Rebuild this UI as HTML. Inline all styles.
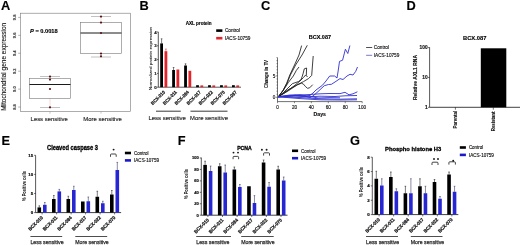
<!DOCTYPE html>
<html><head><meta charset="utf-8"><title>Figure</title>
<style>
html,body{margin:0;padding:0;background:#fff;}
body{width:520px;height:245px;overflow:hidden;}
svg{display:block;will-change:transform;font-family:"Liberation Sans", sans-serif;}
</style></head>
<body>
<svg width="520" height="245" viewBox="0 0 520 245" fill="#111">
<text x="0.9" y="9.9" font-size="12.8" font-weight="bold" fill="#000" stroke="#000" stroke-width="0.14">A</text>
<text x="139.6" y="9.9" font-size="12.8" font-weight="bold" fill="#000" stroke="#000" stroke-width="0.14">B</text>
<text x="261" y="9.9" font-size="12.8" font-weight="bold" fill="#000" stroke="#000" stroke-width="0.14">C</text>
<text x="406.4" y="9.9" font-size="12.8" font-weight="bold" fill="#000" stroke="#000" stroke-width="0.14">D</text>
<text x="1.4" y="145.3" font-size="12.8" font-weight="bold" fill="#000" stroke="#000" stroke-width="0.14">E</text>
<text x="177.8" y="145.3" font-size="12.8" font-weight="bold" fill="#000" stroke="#000" stroke-width="0.14">F</text>
<text x="350" y="145.3" font-size="12.8" font-weight="bold" fill="#000" stroke="#000" stroke-width="0.14">G</text>
<rect x="20.5" y="13.2" width="110" height="98.4" fill="none" stroke="#777" stroke-width="0.6"/>
<line x1="18.2" y1="17.4" x2="20.5" y2="17.4" stroke="#666" stroke-width="0.5"/>
<text x="16.5" y="17.4" font-size="4.4" font-weight="bold" text-anchor="middle" transform="rotate(-90 16.5 17.4)" fill="#333" textLength="5.6" lengthAdjust="spacingAndGlyphs" stroke="#333" stroke-width="0.14">9.8</text>
<line x1="18.2" y1="35.33" x2="20.5" y2="35.33" stroke="#666" stroke-width="0.5"/>
<text x="16.5" y="35.33" font-size="4.4" font-weight="bold" text-anchor="middle" transform="rotate(-90 16.5 35.33)" fill="#333" textLength="5.6" lengthAdjust="spacingAndGlyphs" stroke="#333" stroke-width="0.14">9.6</text>
<line x1="18.2" y1="53.26" x2="20.5" y2="53.26" stroke="#666" stroke-width="0.5"/>
<text x="16.5" y="53.26" font-size="4.4" font-weight="bold" text-anchor="middle" transform="rotate(-90 16.5 53.26)" fill="#333" textLength="5.6" lengthAdjust="spacingAndGlyphs" stroke="#333" stroke-width="0.14">9.4</text>
<line x1="18.2" y1="71.19" x2="20.5" y2="71.19" stroke="#666" stroke-width="0.5"/>
<text x="16.5" y="71.19" font-size="4.4" font-weight="bold" text-anchor="middle" transform="rotate(-90 16.5 71.19)" fill="#333" textLength="5.6" lengthAdjust="spacingAndGlyphs" stroke="#333" stroke-width="0.14">9.2</text>
<line x1="18.2" y1="89.12" x2="20.5" y2="89.12" stroke="#666" stroke-width="0.5"/>
<text x="16.5" y="89.12" font-size="4.4" font-weight="bold" text-anchor="middle" transform="rotate(-90 16.5 89.12)" fill="#333" textLength="5.6" lengthAdjust="spacingAndGlyphs" stroke="#333" stroke-width="0.14">9.0</text>
<line x1="18.2" y1="107.05" x2="20.5" y2="107.05" stroke="#666" stroke-width="0.5"/>
<text x="16.5" y="107.05" font-size="4.4" font-weight="bold" text-anchor="middle" transform="rotate(-90 16.5 107.05)" fill="#333" textLength="5.6" lengthAdjust="spacingAndGlyphs" stroke="#333" stroke-width="0.14">8.8</text>
<text x="6.5" y="66.8" font-size="6.3" text-anchor="middle" transform="rotate(-90 6.5 66.8)" fill="#222" textLength="88" lengthAdjust="spacingAndGlyphs" stroke="#222" stroke-width="0.14">Mitochondrial gene expression</text>
<text x="30" y="33" font-size="5.7" font-weight="bold" fill="#000" stroke="#000" stroke-width="0.14"><tspan font-style="italic">P</tspan> = 0.0018</text>
<line x1="50" y1="76.5" x2="50" y2="78.5" stroke="#f0c4c4" stroke-width="0.6"/>
<line x1="50" y1="98.5" x2="50" y2="107.5" stroke="#f0c4c4" stroke-width="0.6"/>
<line x1="40" y1="76.5" x2="60" y2="76.5" stroke="#999" stroke-width="0.6"/>
<line x1="40" y1="107.5" x2="60" y2="107.5" stroke="#999" stroke-width="0.6"/>
<rect x="29.5" y="78.5" width="41" height="20" fill="none" stroke="#777" stroke-width="0.6"/>
<line x1="29.5" y1="84.5" x2="70.5" y2="84.5" stroke="#1a1a1a" stroke-width="1"/>
<circle cx="50" cy="76.6" r="1.1" fill="#5a1414"/>
<circle cx="50" cy="79.6" r="1.1" fill="#5a1414"/>
<circle cx="50" cy="89" r="1.1" fill="#5a1414"/>
<circle cx="50" cy="107.3" r="1.1" fill="#5a1414"/>
<line x1="50" y1="111.5" x2="50" y2="113.6" stroke="#888" stroke-width="0.5"/>
<line x1="101" y1="16.5" x2="101" y2="22.5" stroke="#f0c4c4" stroke-width="0.6"/>
<line x1="101" y1="53.5" x2="101" y2="57" stroke="#f0c4c4" stroke-width="0.6"/>
<line x1="91" y1="16.5" x2="111" y2="16.5" stroke="#999" stroke-width="0.6"/>
<line x1="91" y1="57" x2="111" y2="57" stroke="#999" stroke-width="0.6"/>
<rect x="80.5" y="22.5" width="41" height="31" fill="none" stroke="#777" stroke-width="0.6"/>
<line x1="80.5" y1="33" x2="121.5" y2="33" stroke="#1a1a1a" stroke-width="1"/>
<circle cx="101" cy="16.6" r="1.1" fill="#5a1414"/>
<circle cx="101" cy="22.6" r="1.1" fill="#5a1414"/>
<circle cx="101" cy="33" r="1.1" fill="#5a1414"/>
<circle cx="101" cy="53.5" r="1.1" fill="#5a1414"/>
<circle cx="101" cy="56.3" r="1.1" fill="#5a1414"/>
<line x1="101" y1="111.5" x2="101" y2="113.6" stroke="#888" stroke-width="0.5"/>
<text x="30.6" y="120.9" font-size="6.1" fill="#222" textLength="37.1" lengthAdjust="spacingAndGlyphs" stroke="#222" stroke-width="0.14">Less sensitive</text>
<text x="83.2" y="120.9" font-size="6.1" fill="#222" textLength="38.6" lengthAdjust="spacingAndGlyphs" stroke="#222" stroke-width="0.14">More sensitive</text>
<line x1="158.3" y1="31.9" x2="158.3" y2="87.2" stroke="#111" stroke-width="0.7"/>
<line x1="156.9" y1="87.2" x2="158.3" y2="87.2" stroke="#111" stroke-width="0.6"/>
<text x="156.6" y="88.78" font-size="4.4" font-weight="bold" text-anchor="end" stroke="#111" stroke-width="0.14">0</text>
<line x1="156.9" y1="73.4" x2="158.3" y2="73.4" stroke="#111" stroke-width="0.6"/>
<text x="156.6" y="74.98" font-size="4.4" font-weight="bold" text-anchor="end" stroke="#111" stroke-width="0.14">1</text>
<line x1="156.9" y1="59.6" x2="158.3" y2="59.6" stroke="#111" stroke-width="0.6"/>
<text x="156.6" y="61.18" font-size="4.4" font-weight="bold" text-anchor="end" stroke="#111" stroke-width="0.14">2</text>
<line x1="156.9" y1="45.8" x2="158.3" y2="45.8" stroke="#111" stroke-width="0.6"/>
<text x="156.6" y="47.38" font-size="4.4" font-weight="bold" text-anchor="end" stroke="#111" stroke-width="0.14">3</text>
<line x1="156.9" y1="32" x2="158.3" y2="32" stroke="#111" stroke-width="0.6"/>
<text x="156.6" y="33.58" font-size="4.4" font-weight="bold" text-anchor="end" stroke="#111" stroke-width="0.14">4</text>
<line x1="158.3" y1="87.2" x2="241" y2="87.2" stroke="#111" stroke-width="0.7"/>
<rect x="160.2" y="43.4" width="2.8" height="43.8" fill="#000"/>
<rect x="164.5" y="51.2" width="2.8" height="36" fill="#e3242b"/>
<line x1="161.6" y1="38.8" x2="161.6" y2="43.4" stroke="#111" stroke-width="0.55"/>
<line x1="160.8" y1="38.8" x2="162.4" y2="38.8" stroke="#111" stroke-width="0.55"/>
<line x1="165.9" y1="49" x2="165.9" y2="51.2" stroke="#e3242b" stroke-width="0.55"/>
<line x1="165.1" y1="49" x2="166.7" y2="49" stroke="#e3242b" stroke-width="0.55"/>
<text x="165.4" y="92.5" font-size="4.7" font-weight="bold" text-anchor="end" transform="rotate(-45 165.4 92.5)" textLength="18" lengthAdjust="spacingAndGlyphs" stroke="#111" stroke-width="0.2">BCX-010</text>
<rect x="172.17" y="70" width="2.8" height="17.2" fill="#000"/>
<rect x="176.47" y="69.5" width="2.8" height="17.7" fill="#e3242b"/>
<line x1="173.57" y1="67.5" x2="173.57" y2="70" stroke="#111" stroke-width="0.55"/>
<line x1="172.77" y1="67.5" x2="174.37" y2="67.5" stroke="#111" stroke-width="0.55"/>
<text x="177.37" y="92.5" font-size="4.7" font-weight="bold" text-anchor="end" transform="rotate(-45 177.37 92.5)" textLength="18" lengthAdjust="spacingAndGlyphs" stroke="#111" stroke-width="0.2">BCX-011</text>
<rect x="184.14" y="65.5" width="2.8" height="21.7" fill="#000"/>
<rect x="188.44" y="70.8" width="2.8" height="16.4" fill="#e3242b"/>
<line x1="185.54" y1="63.8" x2="185.54" y2="65.5" stroke="#111" stroke-width="0.55"/>
<line x1="184.74" y1="63.8" x2="186.34" y2="63.8" stroke="#111" stroke-width="0.55"/>
<text x="189.34" y="92.5" font-size="4.7" font-weight="bold" text-anchor="end" transform="rotate(-45 189.34 92.5)" textLength="18" lengthAdjust="spacingAndGlyphs" stroke="#111" stroke-width="0.2">BCX-084</text>
<rect x="196.11" y="85.2" width="2.8" height="2" fill="#000"/>
<rect x="200.41" y="85.4" width="2.8" height="1.8" fill="#e3242b"/>
<text x="201.31" y="92.5" font-size="4.7" font-weight="bold" text-anchor="end" transform="rotate(-45 201.31 92.5)" textLength="18" lengthAdjust="spacingAndGlyphs" stroke="#111" stroke-width="0.2">BCX-017</text>
<rect x="208.08" y="85.2" width="2.8" height="2" fill="#000"/>
<rect x="212.38" y="85.4" width="2.8" height="1.8" fill="#e3242b"/>
<text x="213.28" y="92.5" font-size="4.7" font-weight="bold" text-anchor="end" transform="rotate(-45 213.28 92.5)" textLength="18" lengthAdjust="spacingAndGlyphs" stroke="#111" stroke-width="0.2">BCX-022</text>
<rect x="220.05" y="85.2" width="2.8" height="2" fill="#000"/>
<rect x="224.35" y="85.4" width="2.8" height="1.8" fill="#e3242b"/>
<text x="225.25" y="92.5" font-size="4.7" font-weight="bold" text-anchor="end" transform="rotate(-45 225.25 92.5)" textLength="18" lengthAdjust="spacingAndGlyphs" stroke="#111" stroke-width="0.2">BCX-070</text>
<rect x="232.02" y="85.2" width="2.8" height="2" fill="#000"/>
<rect x="236.32" y="85.4" width="2.8" height="1.8" fill="#e3242b"/>
<text x="237.22" y="92.5" font-size="4.7" font-weight="bold" text-anchor="end" transform="rotate(-45 237.22 92.5)" textLength="18" lengthAdjust="spacingAndGlyphs" stroke="#111" stroke-width="0.2">BCX-087</text>
<line x1="156" y1="111.2" x2="180.8" y2="111.2" stroke="#222" stroke-width="0.9"/>
<line x1="190.5" y1="111.2" x2="227.5" y2="111.2" stroke="#222" stroke-width="0.9"/>
<text x="148.5" y="120" font-size="6.1" fill="#222" textLength="37.4" lengthAdjust="spacingAndGlyphs" stroke="#222" stroke-width="0.14">Less sensitive</text>
<text x="190" y="120" font-size="6.1" fill="#222" textLength="38" lengthAdjust="spacingAndGlyphs" stroke="#222" stroke-width="0.14">More sensitive</text>
<text x="185.7" y="24.6" font-size="4.6" font-weight="bold" fill="#000" stroke="#000" stroke-width="0.14">AXL protein</text>
<rect x="216.2" y="29.3" width="6.2" height="2.6" fill="#000"/>
<rect x="216.2" y="36.9" width="6.2" height="2.6" fill="#e3242b"/>
<text x="224.9" y="32.1" font-size="4.7" stroke="#111" stroke-width="0.14">Control</text>
<text x="224.9" y="39.7" font-size="4.7" stroke="#111" stroke-width="0.14">IACS-10759</text>
<text x="151.9" y="58.5" font-size="4.4" text-anchor="middle" transform="rotate(-90 151.9 58.5)" textLength="63.5" lengthAdjust="spacingAndGlyphs" stroke="#111" stroke-width="0.06">Normalized protein expression</text>
<line x1="277.5" y1="57.7" x2="277.5" y2="101.6" stroke="#111" stroke-width="0.6"/>
<line x1="275.7" y1="97.3" x2="277.5" y2="97.3" stroke="#111" stroke-width="0.5"/>
<line x1="276.5" y1="94.24" x2="277.5" y2="94.24" stroke="#111" stroke-width="0.5"/>
<line x1="276.5" y1="91.18" x2="277.5" y2="91.18" stroke="#111" stroke-width="0.5"/>
<line x1="276.5" y1="88.12" x2="277.5" y2="88.12" stroke="#111" stroke-width="0.5"/>
<line x1="276.5" y1="85.06" x2="277.5" y2="85.06" stroke="#111" stroke-width="0.5"/>
<line x1="276.5" y1="82" x2="277.5" y2="82" stroke="#111" stroke-width="0.5"/>
<line x1="276.5" y1="78.94" x2="277.5" y2="78.94" stroke="#111" stroke-width="0.5"/>
<line x1="275.7" y1="75.88" x2="277.5" y2="75.88" stroke="#111" stroke-width="0.5"/>
<line x1="276.5" y1="72.82" x2="277.5" y2="72.82" stroke="#111" stroke-width="0.5"/>
<line x1="276.5" y1="69.76" x2="277.5" y2="69.76" stroke="#111" stroke-width="0.5"/>
<line x1="276.5" y1="66.7" x2="277.5" y2="66.7" stroke="#111" stroke-width="0.5"/>
<line x1="276.5" y1="63.64" x2="277.5" y2="63.64" stroke="#111" stroke-width="0.5"/>
<line x1="276.5" y1="60.58" x2="277.5" y2="60.58" stroke="#111" stroke-width="0.5"/>
<line x1="276.5" y1="57.52" x2="277.5" y2="57.52" stroke="#111" stroke-width="0.5"/>
<text x="275.2" y="98.9" font-size="4.6" text-anchor="end" stroke="#111" stroke-width="0.14">0</text>
<text x="275.2" y="77.5" font-size="4.6" text-anchor="end" stroke="#111" stroke-width="0.14">5</text>
<line x1="277.5" y1="101.6" x2="362.2" y2="101.6" stroke="#111" stroke-width="0.6"/>
<line x1="277.5" y1="101.6" x2="277.5" y2="103.2" stroke="#111" stroke-width="0.5"/>
<text x="277.5" y="108.9" font-size="4.6" text-anchor="middle" stroke="#111" stroke-width="0.14">0</text>
<line x1="294.44" y1="101.6" x2="294.44" y2="103.2" stroke="#111" stroke-width="0.5"/>
<text x="294.44" y="108.9" font-size="4.6" text-anchor="middle" stroke="#111" stroke-width="0.14">20</text>
<line x1="311.38" y1="101.6" x2="311.38" y2="103.2" stroke="#111" stroke-width="0.5"/>
<text x="311.38" y="108.9" font-size="4.6" text-anchor="middle" stroke="#111" stroke-width="0.14">40</text>
<line x1="328.32" y1="101.6" x2="328.32" y2="103.2" stroke="#111" stroke-width="0.5"/>
<text x="328.32" y="108.9" font-size="4.6" text-anchor="middle" stroke="#111" stroke-width="0.14">60</text>
<line x1="345.26" y1="101.6" x2="345.26" y2="103.2" stroke="#111" stroke-width="0.5"/>
<text x="345.26" y="108.9" font-size="4.6" text-anchor="middle" stroke="#111" stroke-width="0.14">80</text>
<line x1="362.2" y1="101.6" x2="362.2" y2="103.2" stroke="#111" stroke-width="0.5"/>
<text x="362.2" y="108.9" font-size="4.6" text-anchor="middle" stroke="#111" stroke-width="0.14">100</text>
<text x="319.8" y="116.2" font-size="5.2" font-weight="bold" text-anchor="middle" stroke="#111" stroke-width="0.14">Days</text>
<text x="268" y="74" font-size="4.5" font-weight="bold" text-anchor="middle" transform="rotate(-90 268 74)" textLength="28" lengthAdjust="spacingAndGlyphs" stroke="#111" stroke-width="0.08">Change in TV</text>
<text x="319.9" y="38.9" font-size="5.5" font-weight="bold" text-anchor="middle" fill="#000" stroke="#000" stroke-width="0.14">BCX.087</text>
<line x1="366.1" y1="47.5" x2="372.2" y2="47.5" stroke="#222" stroke-width="0.8"/>
<line x1="366.1" y1="55.3" x2="372.2" y2="55.3" stroke="#7a7ac8" stroke-width="1"/>
<text x="373.8" y="48.9" font-size="4.7" stroke="#111" stroke-width="0.14">Control</text>
<text x="373.8" y="57" font-size="4.7" stroke="#111" stroke-width="0.14">IACS-10759</text>
<polyline points="278.3,96.8 283.1,90.3 286.7,83.2 289.8,75 294.5,65 299,55 301.6,45.6" fill="none" stroke="#1c1c1c" stroke-width="0.85" stroke-linejoin="round"/>
<polyline points="278.3,96.8 283.4,90 287.2,83 290.4,75 295.6,65 302,55 307.3,45.3" fill="none" stroke="#1c1c1c" stroke-width="0.85" stroke-linejoin="round"/>
<polyline points="278.3,96.8 283,90.8 288.2,82.7 293.3,76 296.4,70.3 299,67" fill="none" stroke="#1c1c1c" stroke-width="0.85" stroke-linejoin="round"/>
<polyline points="278.3,96.8 283.1,92.9 292.3,83.7 298.4,81.6 301,79.6 302,77 303,73.9 304.3,68.8 306.6,68 306.3,75.4" fill="none" stroke="#1c1c1c" stroke-width="0.85" stroke-linejoin="round"/>
<polyline points="278.3,96.8 287.2,90.3 297.4,84.7 301.5,83.2 303.5,84.2 305.6,86.7 307.6,88.3 309.7,87.8 312.7,84.7" fill="none" stroke="#1c1c1c" stroke-width="0.85" stroke-linejoin="round"/>
<polyline points="278.3,96.8 288,91 297,85 303.5,81.6 308.6,78.5 311.7,75.4 313.2,56" fill="none" stroke="#1c1c1c" stroke-width="0.85" stroke-linejoin="round"/>
<polyline points="278.3,96.8 285,92.5 294,86 300,81 303.5,77.5 305.6,75 307.6,77" fill="none" stroke="#1c1c1c" stroke-width="0.85" stroke-linejoin="round"/>
<polyline points="278.3,96.8 290,95.8 300,95.4 306,96.2 310,95.4 313,93 316,90 322.4,85.3 326,81 329.7,76 334.6,76 337,78 338.3,70 339.5,61.4 342.6,60.2 345.4,49.2 347.8,53.5 349.9,45.5" fill="none" stroke="#3030d0" stroke-width="0.9" stroke-linejoin="round"/>
<polyline points="278.3,96.8 295,95.2 305,96.3 310,97.5 313,96 317,92.5 324.3,85.7 328.5,84.5 331.4,84.3 335,82 340,78.6 343,79.5 347,76 350,74.3 353,75 355.7,71.4 357.5,67" fill="none" stroke="#3030d0" stroke-width="0.9" stroke-linejoin="round"/>
<polyline points="278.3,96.8 290,95.8 300,95 310,94.5 320,93.8 330,93.5 340,93.6 345,92.3 349,94.8 353,93.8 357.4,91.8" fill="none" stroke="#3030d0" stroke-width="0.9" stroke-linejoin="round"/>
<polyline points="278.3,96.8 295,96.2 310,96.8 320,96.2 335,96.5 345,95.8 357,95.5" fill="none" stroke="#3030d0" stroke-width="0.9" stroke-linejoin="round"/>
<polyline points="278.3,96.8 300,97.5 320,98.8 340,99.2 357,98.8" fill="none" stroke="#3030d0" stroke-width="0.9" stroke-linejoin="round"/>
<polyline points="278.3,96.8 300,98.6 320,99.8 340,100 357,99.8" fill="none" stroke="#3030d0" stroke-width="0.9" stroke-linejoin="round"/>
<polyline points="278.3,96.8 290,95 300,94.8 310,96.3 318,98 330,97.6 340,97.8" fill="none" stroke="#3030d0" stroke-width="0.9" stroke-linejoin="round"/>
<line x1="429.6" y1="47.3" x2="429.6" y2="107.3" stroke="#111" stroke-width="0.7"/>
<line x1="428" y1="47.6" x2="429.6" y2="47.6" stroke="#111" stroke-width="0.6"/>
<text x="427.6" y="49.4" font-size="5" font-weight="bold" text-anchor="end" textLength="8" lengthAdjust="spacingAndGlyphs" stroke="#111" stroke-width="0.14">100</text>
<line x1="428" y1="77.45" x2="429.6" y2="77.45" stroke="#111" stroke-width="0.6"/>
<text x="427.6" y="79.25" font-size="5" font-weight="bold" text-anchor="end" textLength="5.4" lengthAdjust="spacingAndGlyphs" stroke="#111" stroke-width="0.14">10</text>
<line x1="428" y1="107.3" x2="429.6" y2="107.3" stroke="#111" stroke-width="0.6"/>
<text x="427.6" y="109.1" font-size="5" font-weight="bold" text-anchor="end" textLength="2.7" lengthAdjust="spacingAndGlyphs" stroke="#111" stroke-width="0.14">1</text>
<line x1="429.6" y1="107.3" x2="520" y2="107.3" stroke="#111" stroke-width="0.8"/>
<rect x="480.8" y="48.3" width="25.5" height="59" fill="#000"/>
<line x1="455.4" y1="107.3" x2="455.4" y2="109.7" stroke="#111" stroke-width="0.6"/>
<text x="457.2" y="110.7" font-size="4.8" font-weight="bold" text-anchor="end" transform="rotate(-90 457.2 110.7)" textLength="17.8" lengthAdjust="spacingAndGlyphs" stroke="#111" stroke-width="0.1">Parental</text>
<line x1="493.3" y1="107.3" x2="493.3" y2="109.7" stroke="#111" stroke-width="0.6"/>
<text x="495.1" y="111.6" font-size="4.8" font-weight="bold" text-anchor="end" transform="rotate(-90 495.1 111.6)" textLength="19.6" lengthAdjust="spacingAndGlyphs" stroke="#111" stroke-width="0.1">Resistant</text>
<text x="417.2" y="77.5" font-size="4.9" font-weight="bold" text-anchor="middle" transform="rotate(-90 417.2 77.5)" textLength="45" lengthAdjust="spacingAndGlyphs" stroke="#111" stroke-width="0.14">Relative AXL1 RNA</text>
<text x="463" y="39.9" font-size="5.8" font-weight="bold" fill="#000" textLength="23.5" lengthAdjust="spacingAndGlyphs" stroke="#000" stroke-width="0.14">BCX.087</text>
<line x1="35.6" y1="155.3" x2="35.6" y2="212.6" stroke="#111" stroke-width="0.7"/>
<line x1="34.1" y1="212.6" x2="35.6" y2="212.6" stroke="#111" stroke-width="0.6"/>
<text x="33.1" y="214.18" font-size="4.4" font-weight="bold" text-anchor="end" stroke="#111" stroke-width="0.2">0</text>
<line x1="34.1" y1="193.5" x2="35.6" y2="193.5" stroke="#111" stroke-width="0.6"/>
<text x="33.1" y="195.08" font-size="4.4" font-weight="bold" text-anchor="end" stroke="#111" stroke-width="0.2">5</text>
<line x1="34.1" y1="174.4" x2="35.6" y2="174.4" stroke="#111" stroke-width="0.6"/>
<text x="33.1" y="175.98" font-size="4.4" font-weight="bold" text-anchor="end" stroke="#111" stroke-width="0.2">10</text>
<line x1="34.1" y1="155.3" x2="35.6" y2="155.3" stroke="#111" stroke-width="0.6"/>
<text x="33.1" y="156.88" font-size="4.4" font-weight="bold" text-anchor="end" stroke="#111" stroke-width="0.2">15</text>
<line x1="35.6" y1="212.6" x2="121.1" y2="212.6" stroke="#111" stroke-width="0.8"/>
<line x1="42.1" y1="212.6" x2="42.1" y2="214.4" stroke="#111" stroke-width="0.6"/>
<line x1="56.6" y1="212.6" x2="56.6" y2="214.4" stroke="#111" stroke-width="0.6"/>
<line x1="71.1" y1="212.6" x2="71.1" y2="214.4" stroke="#111" stroke-width="0.6"/>
<line x1="85.6" y1="212.6" x2="85.6" y2="214.4" stroke="#111" stroke-width="0.6"/>
<line x1="100.1" y1="212.6" x2="100.1" y2="214.4" stroke="#111" stroke-width="0.6"/>
<line x1="114.6" y1="212.6" x2="114.6" y2="214.4" stroke="#111" stroke-width="0.6"/>
<rect x="37.5" y="207.4" width="3.6" height="5.2" fill="#000"/>
<rect x="43" y="204.8" width="3.6" height="7.8" fill="#2626d2"/>
<line x1="39.3" y1="205.8" x2="39.3" y2="207.4" stroke="#111" stroke-width="0.55"/>
<line x1="38.5" y1="205.8" x2="40.1" y2="205.8" stroke="#111" stroke-width="0.55"/>
<line x1="44.8" y1="202.5" x2="44.8" y2="204.8" stroke="#2a2a50" stroke-width="0.55"/>
<line x1="44" y1="202.5" x2="45.6" y2="202.5" stroke="#2a2a50" stroke-width="0.55"/>
<text x="43.4" y="217.9" font-size="4.8" font-weight="bold" text-anchor="end" transform="rotate(-45 43.4 217.9)" textLength="18.6" lengthAdjust="spacingAndGlyphs" stroke="#111" stroke-width="0.22">BCX-010</text>
<rect x="52" y="199" width="3.6" height="13.6" fill="#000"/>
<rect x="57.5" y="191.4" width="3.6" height="21.2" fill="#2626d2"/>
<line x1="53.8" y1="195.5" x2="53.8" y2="199" stroke="#111" stroke-width="0.55"/>
<line x1="53" y1="195.5" x2="54.6" y2="195.5" stroke="#111" stroke-width="0.55"/>
<line x1="59.3" y1="189.4" x2="59.3" y2="191.4" stroke="#2a2a50" stroke-width="0.55"/>
<line x1="58.5" y1="189.4" x2="60.1" y2="189.4" stroke="#2a2a50" stroke-width="0.55"/>
<text x="57.9" y="217.9" font-size="4.8" font-weight="bold" text-anchor="end" transform="rotate(-45 57.9 217.9)" textLength="18.6" lengthAdjust="spacingAndGlyphs" stroke="#111" stroke-width="0.22">BCX-011</text>
<rect x="66.5" y="199" width="3.6" height="13.6" fill="#000"/>
<rect x="72" y="190" width="3.6" height="22.6" fill="#2626d2"/>
<line x1="68.3" y1="196.25" x2="68.3" y2="199" stroke="#111" stroke-width="0.55"/>
<line x1="67.5" y1="196.25" x2="69.1" y2="196.25" stroke="#111" stroke-width="0.55"/>
<line x1="73.8" y1="186.25" x2="73.8" y2="190" stroke="#2a2a50" stroke-width="0.55"/>
<line x1="73" y1="186.25" x2="74.6" y2="186.25" stroke="#2a2a50" stroke-width="0.55"/>
<text x="72.4" y="217.9" font-size="4.8" font-weight="bold" text-anchor="end" transform="rotate(-45 72.4 217.9)" textLength="18.6" lengthAdjust="spacingAndGlyphs" stroke="#111" stroke-width="0.22">BCX-084</text>
<rect x="81" y="201.5" width="3.6" height="11.1" fill="#000"/>
<rect x="86.5" y="201.25" width="3.6" height="11.35" fill="#2626d2"/>
<line x1="88.3" y1="197" x2="88.3" y2="201.25" stroke="#2a2a50" stroke-width="0.55"/>
<line x1="87.5" y1="197" x2="89.1" y2="197" stroke="#2a2a50" stroke-width="0.55"/>
<text x="86.9" y="217.9" font-size="4.8" font-weight="bold" text-anchor="end" transform="rotate(-45 86.9 217.9)" textLength="18.6" lengthAdjust="spacingAndGlyphs" stroke="#111" stroke-width="0.22">BCX-017</text>
<rect x="95.5" y="196.75" width="3.6" height="15.85" fill="#000"/>
<rect x="101" y="203.25" width="3.6" height="9.35" fill="#2626d2"/>
<line x1="97.3" y1="191.25" x2="97.3" y2="196.75" stroke="#111" stroke-width="0.55"/>
<line x1="96.5" y1="191.25" x2="98.1" y2="191.25" stroke="#111" stroke-width="0.55"/>
<line x1="102.8" y1="201.25" x2="102.8" y2="203.25" stroke="#2a2a50" stroke-width="0.55"/>
<line x1="102" y1="201.25" x2="103.6" y2="201.25" stroke="#2a2a50" stroke-width="0.55"/>
<text x="101.4" y="217.9" font-size="4.8" font-weight="bold" text-anchor="end" transform="rotate(-45 101.4 217.9)" textLength="18.6" lengthAdjust="spacingAndGlyphs" stroke="#111" stroke-width="0.22">BCX-022</text>
<rect x="110" y="194.5" width="3.6" height="18.1" fill="#000"/>
<rect x="115.5" y="170" width="3.6" height="42.6" fill="#2626d2"/>
<line x1="111.8" y1="190.5" x2="111.8" y2="194.5" stroke="#111" stroke-width="0.55"/>
<line x1="111" y1="190.5" x2="112.6" y2="190.5" stroke="#111" stroke-width="0.55"/>
<line x1="117.3" y1="162.4" x2="117.3" y2="170" stroke="#2a2a50" stroke-width="0.55"/>
<line x1="116.5" y1="162.4" x2="118.1" y2="162.4" stroke="#2a2a50" stroke-width="0.55"/>
<text x="115.9" y="217.9" font-size="4.8" font-weight="bold" text-anchor="end" transform="rotate(-45 115.9 217.9)" textLength="18.6" lengthAdjust="spacingAndGlyphs" stroke="#111" stroke-width="0.22">BCX-070</text>
<path d="M110.5 156.8 V154.9 Q110.5 154 111.4 154 H115.3 Q116.2 154 116.2 154.9 V156.8" fill="none" stroke="#151515" stroke-width="0.8"/>
<circle cx="113.6" cy="149.6" r="0.95" fill="#151515"/>
<text x="47" y="150" font-size="6.4" font-weight="bold" fill="#000" textLength="51" lengthAdjust="spacingAndGlyphs" stroke="#000" stroke-width="0.3">Cleaved caspase 3</text>
<rect x="124.9" y="151.7" width="6.1" height="2.6" fill="#000"/>
<rect x="124.9" y="159.1" width="6.1" height="2.6" fill="#1a1ac8"/>
<text x="134" y="154.8" font-size="4.8" textLength="14.4" lengthAdjust="spacingAndGlyphs" stroke="#111" stroke-width="0.14">Control</text>
<text x="134" y="162.2" font-size="4.8" textLength="25" lengthAdjust="spacingAndGlyphs" stroke="#111" stroke-width="0.14">IACS-10759</text>
<text x="25.5" y="186" font-size="4.5" font-weight="bold" text-anchor="middle" transform="rotate(-90 25.5 186)" textLength="30" lengthAdjust="spacingAndGlyphs" stroke="#111" stroke-width="0.06">% Positive cells</text>
<line x1="30.4" y1="236.5" x2="62.2" y2="236.5" stroke="#222" stroke-width="0.8"/>
<line x1="75.3" y1="236.5" x2="107.2" y2="236.5" stroke="#222" stroke-width="0.8"/>
<text x="30.4" y="244.4" font-size="6.2" fill="#222" textLength="33.2" lengthAdjust="spacingAndGlyphs" stroke="#222" stroke-width="0.25">Less sensitive</text>
<text x="75.3" y="244.4" font-size="6.2" fill="#222" textLength="33.4" lengthAdjust="spacingAndGlyphs" stroke="#222" stroke-width="0.25">More sensitive</text>
<line x1="201.3" y1="157.6" x2="201.3" y2="215.2" stroke="#111" stroke-width="0.7"/>
<line x1="199.8" y1="215.2" x2="201.3" y2="215.2" stroke="#111" stroke-width="0.6"/>
<text x="198.8" y="216.64" font-size="4" font-weight="bold" text-anchor="end" stroke="#111" stroke-width="0.2">0</text>
<line x1="199.8" y1="203.76" x2="201.3" y2="203.76" stroke="#111" stroke-width="0.6"/>
<text x="198.8" y="205.2" font-size="4" font-weight="bold" text-anchor="end" stroke="#111" stroke-width="0.2">20</text>
<line x1="199.8" y1="192.32" x2="201.3" y2="192.32" stroke="#111" stroke-width="0.6"/>
<text x="198.8" y="193.76" font-size="4" font-weight="bold" text-anchor="end" stroke="#111" stroke-width="0.2">40</text>
<line x1="199.8" y1="180.88" x2="201.3" y2="180.88" stroke="#111" stroke-width="0.6"/>
<text x="198.8" y="182.32" font-size="4" font-weight="bold" text-anchor="end" stroke="#111" stroke-width="0.2">60</text>
<line x1="199.8" y1="169.44" x2="201.3" y2="169.44" stroke="#111" stroke-width="0.6"/>
<text x="198.8" y="170.88" font-size="4" font-weight="bold" text-anchor="end" stroke="#111" stroke-width="0.2">80</text>
<line x1="199.8" y1="158" x2="201.3" y2="158" stroke="#111" stroke-width="0.6"/>
<text x="198.8" y="159.44" font-size="4" font-weight="bold" text-anchor="end" stroke="#111" stroke-width="0.2">100</text>
<line x1="201.3" y1="215.2" x2="287.5" y2="215.2" stroke="#111" stroke-width="0.8"/>
<line x1="207.9" y1="215.2" x2="207.9" y2="217" stroke="#111" stroke-width="0.6"/>
<line x1="222.52" y1="215.2" x2="222.52" y2="217" stroke="#111" stroke-width="0.6"/>
<line x1="237.14" y1="215.2" x2="237.14" y2="217" stroke="#111" stroke-width="0.6"/>
<line x1="251.76" y1="215.2" x2="251.76" y2="217" stroke="#111" stroke-width="0.6"/>
<line x1="266.38" y1="215.2" x2="266.38" y2="217" stroke="#111" stroke-width="0.6"/>
<line x1="281" y1="215.2" x2="281" y2="217" stroke="#111" stroke-width="0.6"/>
<rect x="203.3" y="164.9" width="3.6" height="50.3" fill="#000"/>
<rect x="208.8" y="171" width="3.6" height="44.2" fill="#2626d2"/>
<line x1="205.1" y1="161.2" x2="205.1" y2="164.9" stroke="#111" stroke-width="0.55"/>
<line x1="204.3" y1="161.2" x2="205.9" y2="161.2" stroke="#111" stroke-width="0.55"/>
<line x1="210.6" y1="166.1" x2="210.6" y2="171" stroke="#2a2a50" stroke-width="0.55"/>
<line x1="209.8" y1="166.1" x2="211.4" y2="166.1" stroke="#2a2a50" stroke-width="0.55"/>
<text x="209.2" y="220.5" font-size="4.8" font-weight="bold" text-anchor="end" transform="rotate(-45 209.2 220.5)" textLength="18.6" lengthAdjust="spacingAndGlyphs" stroke="#111" stroke-width="0.22">BCX-010</text>
<rect x="217.92" y="166.25" width="3.6" height="48.95" fill="#000"/>
<rect x="223.42" y="172.5" width="3.6" height="42.7" fill="#2626d2"/>
<line x1="219.72" y1="163.75" x2="219.72" y2="166.25" stroke="#111" stroke-width="0.55"/>
<line x1="218.92" y1="163.75" x2="220.52" y2="163.75" stroke="#111" stroke-width="0.55"/>
<line x1="225.22" y1="165" x2="225.22" y2="172.5" stroke="#2a2a50" stroke-width="0.55"/>
<line x1="224.42" y1="165" x2="226.02" y2="165" stroke="#2a2a50" stroke-width="0.55"/>
<text x="223.82" y="220.5" font-size="4.8" font-weight="bold" text-anchor="end" transform="rotate(-45 223.82 220.5)" textLength="18.6" lengthAdjust="spacingAndGlyphs" stroke="#111" stroke-width="0.22">BCX-011</text>
<rect x="232.54" y="169.5" width="3.6" height="45.7" fill="#000"/>
<rect x="238.04" y="187" width="3.6" height="28.2" fill="#2626d2"/>
<line x1="234.34" y1="167" x2="234.34" y2="169.5" stroke="#111" stroke-width="0.55"/>
<line x1="233.54" y1="167" x2="235.14" y2="167" stroke="#111" stroke-width="0.55"/>
<line x1="239.84" y1="184.5" x2="239.84" y2="187" stroke="#2a2a50" stroke-width="0.55"/>
<line x1="239.04" y1="184.5" x2="240.64" y2="184.5" stroke="#2a2a50" stroke-width="0.55"/>
<text x="238.44" y="220.5" font-size="4.8" font-weight="bold" text-anchor="end" transform="rotate(-45 238.44 220.5)" textLength="18.6" lengthAdjust="spacingAndGlyphs" stroke="#111" stroke-width="0.22">BCX-084</text>
<rect x="247.16" y="186.25" width="3.6" height="28.95" fill="#000"/>
<rect x="252.66" y="203" width="3.6" height="12.2" fill="#2626d2"/>
<line x1="254.46" y1="195.6" x2="254.46" y2="203" stroke="#2a2a50" stroke-width="0.55"/>
<line x1="253.66" y1="195.6" x2="255.26" y2="195.6" stroke="#2a2a50" stroke-width="0.55"/>
<text x="253.06" y="220.5" font-size="4.8" font-weight="bold" text-anchor="end" transform="rotate(-45 253.06 220.5)" textLength="18.6" lengthAdjust="spacingAndGlyphs" stroke="#111" stroke-width="0.22">BCX-017</text>
<rect x="261.78" y="162.5" width="3.6" height="52.7" fill="#000"/>
<rect x="267.28" y="186.75" width="3.6" height="28.45" fill="#2626d2"/>
<line x1="263.58" y1="160" x2="263.58" y2="162.5" stroke="#111" stroke-width="0.55"/>
<line x1="262.78" y1="160" x2="264.38" y2="160" stroke="#111" stroke-width="0.55"/>
<line x1="269.08" y1="182.5" x2="269.08" y2="186.75" stroke="#2a2a50" stroke-width="0.55"/>
<line x1="268.28" y1="182.5" x2="269.88" y2="182.5" stroke="#2a2a50" stroke-width="0.55"/>
<text x="267.68" y="220.5" font-size="4.8" font-weight="bold" text-anchor="end" transform="rotate(-45 267.68 220.5)" textLength="18.6" lengthAdjust="spacingAndGlyphs" stroke="#111" stroke-width="0.22">BCX-022</text>
<rect x="276.4" y="169.5" width="3.6" height="45.7" fill="#000"/>
<rect x="281.9" y="180.5" width="3.6" height="34.7" fill="#2626d2"/>
<line x1="278.2" y1="166.25" x2="278.2" y2="169.5" stroke="#111" stroke-width="0.55"/>
<line x1="277.4" y1="166.25" x2="279" y2="166.25" stroke="#111" stroke-width="0.55"/>
<line x1="283.7" y1="177" x2="283.7" y2="180.5" stroke="#2a2a50" stroke-width="0.55"/>
<line x1="282.9" y1="177" x2="284.5" y2="177" stroke="#2a2a50" stroke-width="0.55"/>
<text x="282.3" y="220.5" font-size="4.8" font-weight="bold" text-anchor="end" transform="rotate(-45 282.3 220.5)" textLength="18.6" lengthAdjust="spacingAndGlyphs" stroke="#111" stroke-width="0.22">BCX-070</text>
<path d="M233.1 159.2 V157.3 Q233.1 156.4 234 156.4 H237.7 Q238.6 156.4 238.6 157.3 V159.2" fill="none" stroke="#151515" stroke-width="0.8"/>
<circle cx="233.5" cy="152.6" r="0.95" fill="#151515"/>
<circle cx="238" cy="152.6" r="0.95" fill="#151515"/>
<path d="M263.6 155.6 V153.7 Q263.6 152.8 264.5 152.8 H268.6 Q269.5 152.8 269.5 153.7 V155.6" fill="none" stroke="#151515" stroke-width="0.8"/>
<circle cx="261.9" cy="149.8" r="0.95" fill="#151515"/>
<circle cx="266.6" cy="149.8" r="0.95" fill="#151515"/>
<text x="237.2" y="150" font-size="5.3" font-weight="bold" fill="#000" textLength="14.5" lengthAdjust="spacingAndGlyphs" stroke="#000" stroke-width="0.3">PCNA</text>
<rect x="292" y="149.5" width="6.1" height="2.6" fill="#000"/>
<rect x="292" y="156.9" width="6.1" height="2.6" fill="#1a1ac8"/>
<text x="301.1" y="152.6" font-size="4.8" textLength="14.4" lengthAdjust="spacingAndGlyphs" stroke="#111" stroke-width="0.14">Control</text>
<text x="301.1" y="160" font-size="4.8" textLength="25" lengthAdjust="spacingAndGlyphs" stroke="#111" stroke-width="0.14">IACS-10759</text>
<text x="187.6" y="184" font-size="4.5" font-weight="bold" text-anchor="middle" transform="rotate(-90 187.6 184)" textLength="30" lengthAdjust="spacingAndGlyphs" stroke="#111" stroke-width="0.06">% Positive cells</text>
<line x1="196.2" y1="236.5" x2="231" y2="236.5" stroke="#222" stroke-width="0.8"/>
<line x1="241.2" y1="236.5" x2="273.7" y2="236.5" stroke="#222" stroke-width="0.8"/>
<text x="196.2" y="244.4" font-size="6.2" fill="#222" textLength="33.2" lengthAdjust="spacingAndGlyphs" stroke="#222" stroke-width="0.25">Less sensitive</text>
<text x="241.2" y="244.4" font-size="6.2" fill="#222" textLength="33.4" lengthAdjust="spacingAndGlyphs" stroke="#222" stroke-width="0.25">More sensitive</text>
<line x1="372.3" y1="157.2" x2="372.3" y2="214.6" stroke="#111" stroke-width="0.7"/>
<line x1="370.8" y1="214.6" x2="372.3" y2="214.6" stroke="#111" stroke-width="0.6"/>
<text x="369.8" y="216.18" font-size="4.4" font-weight="bold" text-anchor="end" stroke="#111" stroke-width="0.2">0</text>
<line x1="370.8" y1="200.25" x2="372.3" y2="200.25" stroke="#111" stroke-width="0.6"/>
<text x="369.8" y="201.83" font-size="4.4" font-weight="bold" text-anchor="end" stroke="#111" stroke-width="0.2">2</text>
<line x1="370.8" y1="185.9" x2="372.3" y2="185.9" stroke="#111" stroke-width="0.6"/>
<text x="369.8" y="187.48" font-size="4.4" font-weight="bold" text-anchor="end" stroke="#111" stroke-width="0.2">4</text>
<line x1="370.8" y1="171.55" x2="372.3" y2="171.55" stroke="#111" stroke-width="0.6"/>
<text x="369.8" y="173.13" font-size="4.4" font-weight="bold" text-anchor="end" stroke="#111" stroke-width="0.2">6</text>
<line x1="370.8" y1="157.2" x2="372.3" y2="157.2" stroke="#111" stroke-width="0.6"/>
<text x="369.8" y="158.78" font-size="4.4" font-weight="bold" text-anchor="end" stroke="#111" stroke-width="0.2">8</text>
<line x1="372.3" y1="214.6" x2="458.35" y2="214.6" stroke="#111" stroke-width="0.8"/>
<line x1="379.1" y1="214.6" x2="379.1" y2="216.4" stroke="#111" stroke-width="0.6"/>
<line x1="393.65" y1="214.6" x2="393.65" y2="216.4" stroke="#111" stroke-width="0.6"/>
<line x1="408.2" y1="214.6" x2="408.2" y2="216.4" stroke="#111" stroke-width="0.6"/>
<line x1="422.75" y1="214.6" x2="422.75" y2="216.4" stroke="#111" stroke-width="0.6"/>
<line x1="437.3" y1="214.6" x2="437.3" y2="216.4" stroke="#111" stroke-width="0.6"/>
<line x1="451.85" y1="214.6" x2="451.85" y2="216.4" stroke="#111" stroke-width="0.6"/>
<rect x="374.5" y="178.75" width="3.6" height="35.85" fill="#000"/>
<rect x="380" y="185.5" width="3.6" height="29.1" fill="#2626d2"/>
<line x1="376.3" y1="171.25" x2="376.3" y2="178.75" stroke="#111" stroke-width="0.55"/>
<line x1="375.5" y1="171.25" x2="377.1" y2="171.25" stroke="#111" stroke-width="0.55"/>
<line x1="381.8" y1="178.75" x2="381.8" y2="185.5" stroke="#2a2a50" stroke-width="0.55"/>
<line x1="381" y1="178.75" x2="382.6" y2="178.75" stroke="#2a2a50" stroke-width="0.55"/>
<text x="380.4" y="219.9" font-size="4.8" font-weight="bold" text-anchor="end" transform="rotate(-45 380.4 219.9)" textLength="18.6" lengthAdjust="spacingAndGlyphs" stroke="#111" stroke-width="0.22">BCX-010</text>
<rect x="389.05" y="177" width="3.6" height="37.6" fill="#000"/>
<rect x="394.55" y="191.25" width="3.6" height="23.35" fill="#2626d2"/>
<line x1="390.85" y1="172" x2="390.85" y2="177" stroke="#111" stroke-width="0.55"/>
<line x1="390.05" y1="172" x2="391.65" y2="172" stroke="#111" stroke-width="0.55"/>
<line x1="396.35" y1="188.75" x2="396.35" y2="191.25" stroke="#2a2a50" stroke-width="0.55"/>
<line x1="395.55" y1="188.75" x2="397.15" y2="188.75" stroke="#2a2a50" stroke-width="0.55"/>
<text x="394.95" y="219.9" font-size="4.8" font-weight="bold" text-anchor="end" transform="rotate(-45 394.95 219.9)" textLength="18.6" lengthAdjust="spacingAndGlyphs" stroke="#111" stroke-width="0.22">BCX-011</text>
<rect x="403.6" y="193.25" width="3.6" height="21.35" fill="#000"/>
<rect x="409.1" y="193.25" width="3.6" height="21.35" fill="#2626d2"/>
<line x1="405.4" y1="186.25" x2="405.4" y2="193.25" stroke="#111" stroke-width="0.55"/>
<line x1="404.6" y1="186.25" x2="406.2" y2="186.25" stroke="#111" stroke-width="0.55"/>
<line x1="410.9" y1="178.75" x2="410.9" y2="193.25" stroke="#2a2a50" stroke-width="0.55"/>
<line x1="410.1" y1="178.75" x2="411.7" y2="178.75" stroke="#2a2a50" stroke-width="0.55"/>
<text x="409.5" y="219.9" font-size="4.8" font-weight="bold" text-anchor="end" transform="rotate(-45 409.5 219.9)" textLength="18.6" lengthAdjust="spacingAndGlyphs" stroke="#111" stroke-width="0.22">BCX-084</text>
<rect x="418.15" y="186.25" width="3.6" height="28.35" fill="#000"/>
<rect x="423.65" y="193.25" width="3.6" height="21.35" fill="#2626d2"/>
<line x1="419.95" y1="178.75" x2="419.95" y2="186.25" stroke="#111" stroke-width="0.55"/>
<line x1="419.15" y1="178.75" x2="420.75" y2="178.75" stroke="#111" stroke-width="0.55"/>
<line x1="425.45" y1="186.25" x2="425.45" y2="193.25" stroke="#2a2a50" stroke-width="0.55"/>
<line x1="424.65" y1="186.25" x2="426.25" y2="186.25" stroke="#2a2a50" stroke-width="0.55"/>
<text x="424.05" y="219.9" font-size="4.8" font-weight="bold" text-anchor="end" transform="rotate(-45 424.05 219.9)" textLength="18.6" lengthAdjust="spacingAndGlyphs" stroke="#111" stroke-width="0.22">BCX-017</text>
<rect x="432.7" y="182" width="3.6" height="32.6" fill="#000"/>
<rect x="438.2" y="198.75" width="3.6" height="15.85" fill="#2626d2"/>
<line x1="434.5" y1="179.5" x2="434.5" y2="182" stroke="#111" stroke-width="0.55"/>
<line x1="433.7" y1="179.5" x2="435.3" y2="179.5" stroke="#111" stroke-width="0.55"/>
<line x1="440" y1="196.5" x2="440" y2="198.75" stroke="#2a2a50" stroke-width="0.55"/>
<line x1="439.2" y1="196.5" x2="440.8" y2="196.5" stroke="#2a2a50" stroke-width="0.55"/>
<text x="438.6" y="219.9" font-size="4.8" font-weight="bold" text-anchor="end" transform="rotate(-45 438.6 219.9)" textLength="18.6" lengthAdjust="spacingAndGlyphs" stroke="#111" stroke-width="0.22">BCX-022</text>
<rect x="447.25" y="174.5" width="3.6" height="40.1" fill="#000"/>
<rect x="452.75" y="191.75" width="3.6" height="22.85" fill="#2626d2"/>
<line x1="449.05" y1="172" x2="449.05" y2="174.5" stroke="#111" stroke-width="0.55"/>
<line x1="448.25" y1="172" x2="449.85" y2="172" stroke="#111" stroke-width="0.55"/>
<line x1="454.55" y1="186.25" x2="454.55" y2="191.75" stroke="#2a2a50" stroke-width="0.55"/>
<line x1="453.75" y1="186.25" x2="455.35" y2="186.25" stroke="#2a2a50" stroke-width="0.55"/>
<text x="453.15" y="219.9" font-size="4.8" font-weight="bold" text-anchor="end" transform="rotate(-45 453.15 219.9)" textLength="18.6" lengthAdjust="spacingAndGlyphs" stroke="#111" stroke-width="0.22">BCX-070</text>
<path d="M432 165 V163.1 Q432 162.2 432.9 162.2 H437.1 Q438 162.2 438 163.1 V165" fill="none" stroke="#151515" stroke-width="0.8"/>
<circle cx="434" cy="159" r="0.95" fill="#151515"/>
<circle cx="438" cy="159" r="0.95" fill="#151515"/>
<path d="M448.9 164.6 V162.7 Q448.9 161.8 449.8 161.8 H454.5 Q455.4 161.8 455.4 162.7 V164.6" fill="none" stroke="#151515" stroke-width="0.8"/>
<circle cx="453.2" cy="160.7" r="0.95" fill="#151515"/>
<text x="385.1" y="150.5" font-size="6.2" font-weight="bold" fill="#000" textLength="56.1" lengthAdjust="spacingAndGlyphs" stroke="#000" stroke-width="0.3">Phospho histone H3</text>
<rect x="459.8" y="146.2" width="6.1" height="2.6" fill="#000"/>
<rect x="459.8" y="153.6" width="6.1" height="2.6" fill="#1a1ac8"/>
<text x="468.9" y="149.3" font-size="4.8" textLength="14.4" lengthAdjust="spacingAndGlyphs" stroke="#111" stroke-width="0.14">Control</text>
<text x="468.9" y="156.7" font-size="4.8" textLength="25" lengthAdjust="spacingAndGlyphs" stroke="#111" stroke-width="0.14">IACS-10759</text>
<text x="363.2" y="182" font-size="4.5" font-weight="bold" text-anchor="middle" transform="rotate(-90 363.2 182)" textLength="30" lengthAdjust="spacingAndGlyphs" stroke="#111" stroke-width="0.06">% Positive cells</text>
<line x1="366" y1="236.5" x2="398" y2="236.5" stroke="#222" stroke-width="0.8"/>
<line x1="410.8" y1="236.5" x2="442.5" y2="236.5" stroke="#222" stroke-width="0.8"/>
<text x="366" y="244.4" font-size="6.2" fill="#222" textLength="33.2" lengthAdjust="spacingAndGlyphs" stroke="#222" stroke-width="0.25">Less sensitive</text>
<text x="410.8" y="244.4" font-size="6.2" fill="#222" textLength="33.4" lengthAdjust="spacingAndGlyphs" stroke="#222" stroke-width="0.25">More sensitive</text>
</svg>
</body></html>
